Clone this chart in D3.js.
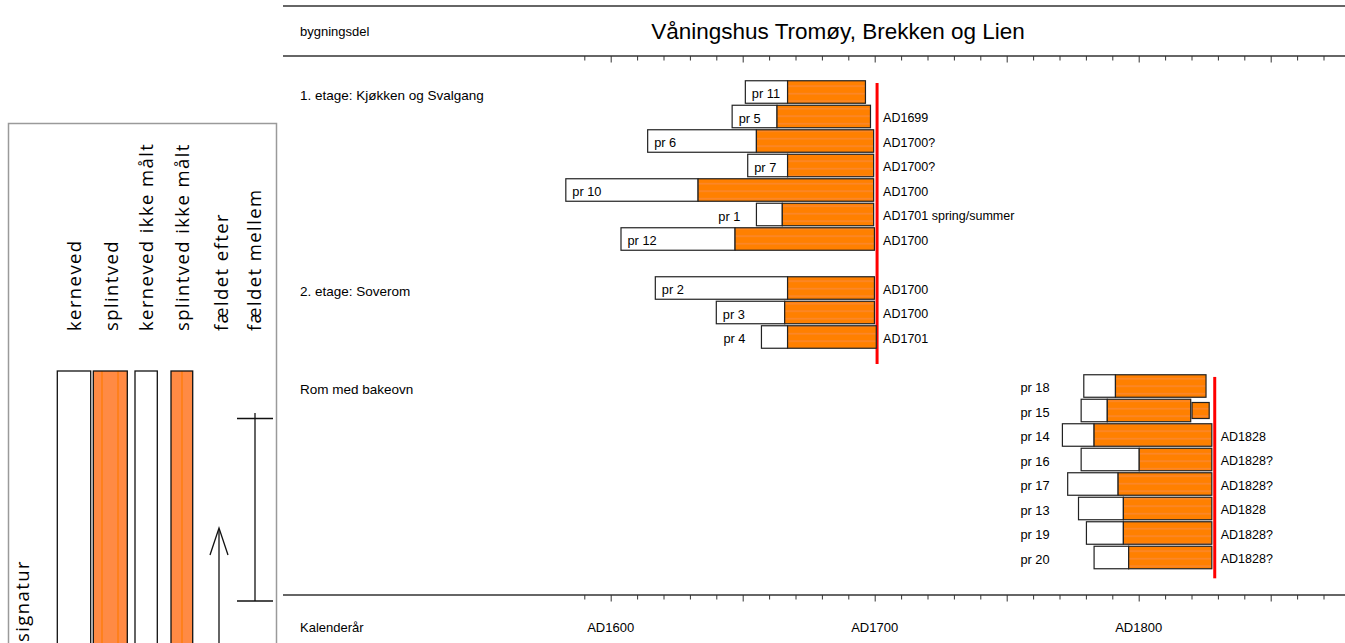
<!DOCTYPE html>
<html>
<head>
<meta charset="utf-8">
<script src="https://cdn.jsdelivr.net/npm/d3@7"></script>
<style>
  html, body { margin: 0; padding: 0; background: #fff; }
  svg { display: block; }
  .sans { font-family: "Liberation Sans", Arial, sans-serif; }
</style>
</head>
<body>
<svg id="chart" width="1345" height="643"></svg>
<script>
// ---------- data ----------
const title = "Våningshus Tromøy, Brekken og Lien";
const headerLeft = "bygningsdel";
const footerLeft = "Kalenderår";
const tickYears = [1600, 1700, 1800];
const tickLabels = ["AD1600", "AD1700", "AD1800"];

const groupNames = ["1. etage: Kjøkken og Svalgang", "2. etage: Soverom", "Rom med bakeovn"];
const groupRows = [0, 8, 12];

const samples   = ["pr 11","pr 5","pr 6","pr 7","pr 10","pr 1","pr 12","pr 2","pr 3","pr 4",
                   "pr 18","pr 15","pr 14","pr 16","pr 17","pr 13","pr 19","pr 20"];
const sampleRow = [0,1,2,3,4,5,6, 8,9,10, 12,13,14,15,16,17,18,19];
const sampleGroup = [0,0,0,0,0,0,0, 1,1,1, 2,2,2,2,2,2,2,2];
const startYear = [1651.0,1646.0,1614.0,1651.9,1583.0,1655.2,1603.9, 1616.9,1640.0,1657.1,
                   1779.2,1778.2,1771.1,1778.2,1773.1,1777.2,1780.2,1783.1];
const sapStart  = [1667.0,1663.0,1655.2,1667.0,1633.1,1665.0,1647.1, 1667.0,1665.9,1667.0,
                   1791.2,1788.1,1783.1,1800.2,1792.2,1794.2,1794.2,1796.2];
const endYear   = [1696.5,1698.4,1699.6,1699.6,1699.6,1699.6,1699.9, 1699.9,1699.9,1700.6,
                   1825.5,1819.7,1827.7,1827.7,1827.7,1827.7,1827.7,1827.7];
const labelMode = ["in","in","in","in","in","out","in", "in","in","out",
                   "col","col","col","col","col","col","col","col"];
const fellingText = ["","AD1699","AD1700?","AD1700?","AD1700","AD1701 spring/summer","AD1700",
                     "AD1700","AD1700","AD1701",
                     "","","AD1828","AD1828?","AD1828?","AD1828","AD1828?","AD1828?"];

// unmeasured sapwood (narrow box)
const extraSample = ["pr 15"];
const extraStart  = [1820.2];
const extraEnd    = [1826.7];

// felling-date red lines (year, from row, to row)
const redYear = [1700.9, 1828.8];
const redFrom = [-0.37, 11.63];
const redTo   = [11.1, 19.85];

const legendLabels = ["kerneved","splintved","kerneved ikke målt","splintved ikke målt","fældet efter","fældet mellem"];
const legendTitle = "signatur";

// ---------- drawing ----------
const svg = d3.select("#chart");
const defs = svg.append("defs");

const barPat = defs.append("pattern").attr("id","sapPat").attr("patternUnits","userSpaceOnUse")
  .attr("width", 10).attr("height", 7.5);
barPat.append("rect").attr("width",10).attr("height",7.5).attr("fill","#ff8000");
barPat.append("line").attr("x1",0).attr("x2",10).attr("y1",3.7).attr("y2",3.7)
  .attr("stroke","#f59070").attr("stroke-width",0.8).attr("opacity",0.8);

const legPat = defs.append("pattern").attr("id","legPat").attr("patternUnits","userSpaceOnUse")
  .attr("width", 16).attr("height", 10);
legPat.append("rect").attr("width",16).attr("height",10).attr("fill","#ff8a44");
legPat.append("line").attr("x1",6).attr("x2",6).attr("y1",0).attr("y2",10)
  .attr("stroke","#ff7a00").attr("stroke-width",1.2);

const x = d3.scaleLinear().domain([1590, 1870]).range([584.3, 1323.5]);
const y = d3.scaleLinear().domain([0, 19]).range([92, 557.5]);
const barH = 22.5;

// frame lines
const lineColor = "#333";
[6, 56, 595].forEach(yy => {
  svg.append("line").attr("x1", 283).attr("x2", 1345).attr("y1", yy).attr("y2", yy)
    .attr("stroke", lineColor).attr("stroke-width", 1.4);
});

// axes (ticks only)
function drawAxis(yPos) {
  const g = svg.append("g").attr("transform", `translate(0,${yPos})`)
    .call(d3.axisBottom(x).tickValues(d3.range(1590, 1871, 10)).tickSize(4.5).tickFormat(""));
  g.select(".domain").remove();
  g.selectAll(".tick line").attr("stroke", lineColor).attr("stroke-width", 1)
    .attr("y2", d => d % 50 === 0 ? 6.5 : 4.5);
}
drawAxis(56);
drawAxis(595);

// header texts
svg.append("text").attr("class","sans").attr("x", 300).attr("y", 31).attr("dy","0.35em")
  .attr("font-size", 13).text(headerLeft);
svg.append("text").attr("class","sans").attr("x", 838).attr("y", 31).attr("dy","0.35em")
  .attr("text-anchor","middle").attr("font-size", 22.5).text(title);

// footer
svg.append("text").attr("class","sans").attr("x", 300).attr("y", 627).attr("dy","0.35em")
  .attr("font-size", 13).text(footerLeft);
svg.selectAll("text.tl").data(tickYears).enter().append("text")
  .attr("class","sans tl").attr("x", d => x(d)).attr("y", 627).attr("dy","0.35em")
  .attr("text-anchor","middle").attr("font-size", 13).text((d,i) => tickLabels[i]);

// group labels
svg.selectAll("text.grp").data(groupNames).enter().append("text")
  .attr("class","sans grp").attr("x", 300).attr("y", (d,i) => y(groupRows[i]) + 3).attr("dy","0.35em")
  .attr("font-size", 13.5).text(d => d);

// red lines
redYear.forEach((yr, i) => {
  svg.append("line").attr("x1", x(yr)).attr("x2", x(yr))
    .attr("y1", y(redFrom[i])).attr("y2", y(redTo[i]))
    .attr("stroke", "#ff0000").attr("stroke-width", 3);
});

// bars
const idx = d3.range(samples.length);
const bars = svg.append("g");
bars.selectAll("rect.heart").data(idx).enter().append("rect")
  .attr("x", i => x(startYear[i])).attr("y", i => y(sampleRow[i]) - barH/2)
  .attr("width", i => x(sapStart[i]) - x(startYear[i])).attr("height", barH)
  .attr("fill", "#fff").attr("stroke", "#222").attr("stroke-width", 1.2);
bars.selectAll("rect.sap").data(idx).enter().append("rect")
  .attr("x", i => x(sapStart[i])).attr("y", i => y(sampleRow[i]) - barH/2)
  .attr("width", i => x(endYear[i]) - x(sapStart[i])).attr("height", barH)
  .attr("fill", "url(#sapPat)").attr("stroke", "#222").attr("stroke-width", 1.2);

// unmeasured sapwood
extraSample.forEach((s, k) => {
  const i = samples.indexOf(s);
  const h = 16;
  svg.append("rect").attr("x", x(extraStart[k])).attr("y", y(sampleRow[i]) - h/2)
    .attr("width", x(extraEnd[k]) - x(extraStart[k])).attr("height", h)
    .attr("fill", "url(#sapPat)").attr("stroke", "#222").attr("stroke-width", 1.2);
});

// sample labels
const colX = {};
d3.range(groupNames.length).forEach(gi => {
  const m = d3.min(idx.filter(i => sampleGroup[i] === gi), i => x(startYear[i]));
  colX[gi] = m - 42;
});
svg.selectAll("text.pr").data(idx).enter().append("text")
  .attr("class","sans pr")
  .attr("x", i => labelMode[i] === "in" ? x(startYear[i]) + 6.5
                 : labelMode[i] === "out" ? x(startYear[i]) - 16 : colX[sampleGroup[i]])
  .attr("text-anchor", i => labelMode[i] === "out" ? "end" : "start")
  .attr("y", i => y(sampleRow[i]) + 2).attr("dy","0.35em")
  .attr("font-size", 12.8).text(i => samples[i]);

// felling labels
svg.selectAll("text.fell").data(idx).enter().append("text")
  .attr("class","sans fell")
  .attr("x", i => x(redYear[sampleGroup[i] === 2 ? 1 : 0]) + 6)
  .attr("y", i => y(sampleRow[i]) + 1.5).attr("dy","0.35em")
  .attr("font-size", 12.5).text(i => fellingText[i]);

// ---------- legend ----------
const leg = svg.append("g");
leg.append("rect").attr("x", 8.5).attr("y", 123.5).attr("width", 268).attr("height", 540)
  .attr("fill", "none").attr("stroke", "#9a9a9a").attr("stroke-width", 1.5);

const legCx = [75, 111.5, 146.5, 183, 221.5, 255];
leg.selectAll("text.lg").data(legendLabels).enter().append("text")
  .attr("transform", (d,i) => `translate(${legCx[i]},331) rotate(-90)`)
  .attr("dy", "0.35em").attr("font-family", "'Open Sans', sans-serif")
  .attr("font-size", 18.5).attr("letter-spacing", 1.4).text(d => d);
leg.append("text").attr("transform", "translate(23,642) rotate(-90)")
  .attr("dy", "0.35em").attr("font-family", "'Open Sans', sans-serif")
  .attr("font-size", 18.5).attr("letter-spacing", 1.4).text(legendTitle);

// legend swatches
const swX = [57.3, 93.3, 135, 171];
const swW = [33.4, 34, 22.3, 21.7];
const swFill = ["#fff", "url(#legPat)", "#fff", "url(#legPat)"];
swX.forEach((sx, i) => {
  leg.append("rect").attr("x", sx).attr("y", 371).attr("width", swW[i]).attr("height", 300)
    .attr("fill", swFill[i]).attr("stroke", "#111").attr("stroke-width", 1.3);
});
// arrow (fældet efter)
leg.append("line").attr("x1", 219).attr("x2", 219).attr("y1", 529).attr("y2", 660)
  .attr("stroke", "#111").attr("stroke-width", 1.3);
leg.append("path").attr("d", "M210,555 L219,528 L228,555")
  .attr("fill", "none").attr("stroke", "#111").attr("stroke-width", 1.3);
// I-beam (fældet mellem)
leg.append("line").attr("x1", 255).attr("x2", 255).attr("y1", 413).attr("y2", 601)
  .attr("stroke", "#111").attr("stroke-width", 1.3);
[418.5, 601].forEach(yy => {
  leg.append("line").attr("x1", 237).attr("x2", 273).attr("y1", yy).attr("y2", yy)
    .attr("stroke", "#111").attr("stroke-width", 1.6);
});
</script>
</body>
</html>
